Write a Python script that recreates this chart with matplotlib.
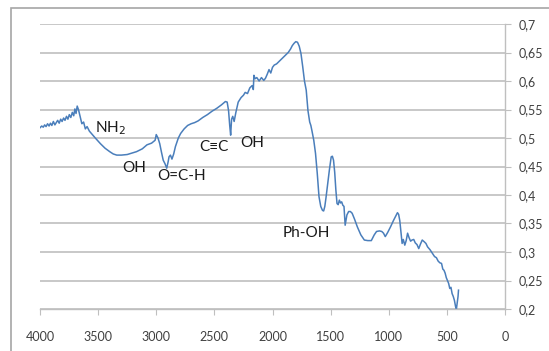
import numpy as np
import matplotlib.pyplot as plt
from matplotlib.patches import Rectangle
from matplotlib.ticker import FuncFormatter

# spectrum (wavenumber, absorbance)
wavenumber = [4000, 3985, 3972, 3960, 3948, 3935, 3922, 3910, 3898, 3885, 3872,
              3860, 3848, 3835, 3822, 3810, 3797, 3785, 3772, 3760, 3748, 3735,
              3722, 3710, 3700, 3690, 3680, 3668,
              3655, 3640, 3625, 3610, 3595, 3575, 3550, 3520, 3480, 3440, 3400,
              3370, 3340, 3300, 3250, 3200, 3170, 3120, 3080, 3040, 3010, 3000,
              2985, 2970, 2955, 2940, 2925, 2910, 2898, 2890, 2878, 2865, 2850,
              2835, 2810, 2790, 2760, 2730, 2700, 2670, 2640, 2600, 2560, 2520,
              2480, 2440, 2405, 2390, 2378, 2368, 2360, 2352, 2342, 2330, 2315,
              2295, 2270, 2250, 2235, 2215, 2195, 2175, 2165, 2160, 2150, 2135,
              2115, 2095, 2075, 2060, 2045, 2030, 2015, 2000, 1985, 1965, 1945,
              1925, 1905, 1885, 1865, 1845, 1830, 1815, 1800, 1785, 1770, 1755,
              1740, 1725, 1710, 1695, 1680, 1670, 1660, 1645, 1630, 1615, 1600,
              1585, 1570, 1560, 1550, 1540, 1525, 1510, 1495, 1485, 1475, 1465,
              1455, 1445, 1435, 1425, 1415, 1405, 1395, 1385, 1375, 1360, 1345,
              1330, 1315, 1295, 1270, 1240, 1210, 1180, 1150, 1125, 1105, 1080,
              1060, 1045, 1030, 1010, 985, 960, 940, 925, 915, 905, 895, 885,
              875, 862, 850, 838, 825, 812, 800, 785, 772, 757, 742, 727, 712,
              695, 680, 666, 645, 625, 606, 590, 575, 560, 546, 535, 525, 515,
              505, 495, 485, 475, 465, 455, 445, 435, 425, 418, 410, 404, 400]
absorbance = [0.518, 0.521, 0.519, 0.523, 0.520, 0.525, 0.521, 0.526, 0.522, 0.529, 0.523,
              0.527, 0.531, 0.526, 0.533, 0.529, 0.535, 0.531, 0.538, 0.533, 0.541, 0.536,
              0.545, 0.539, 0.551, 0.543, 0.556, 0.549,
              0.538, 0.525, 0.528, 0.516, 0.520, 0.512, 0.506, 0.499, 0.490, 0.482, 0.476,
              0.472, 0.470, 0.470, 0.471, 0.474, 0.476, 0.481, 0.488, 0.491, 0.496, 0.506,
              0.500, 0.490, 0.475, 0.461, 0.455, 0.447, 0.458, 0.467, 0.470, 0.463, 0.472,
              0.485, 0.500, 0.508, 0.516, 0.522, 0.525, 0.527, 0.530, 0.536, 0.541, 0.547,
              0.552, 0.558, 0.564, 0.563, 0.548, 0.522, 0.505, 0.533, 0.538, 0.529, 0.545,
              0.563, 0.571, 0.575, 0.580, 0.578, 0.588, 0.592, 0.585, 0.610, 0.604, 0.606,
              0.600, 0.606, 0.601, 0.605, 0.612, 0.620, 0.614, 0.624, 0.628, 0.630, 0.634,
              0.638, 0.642, 0.646, 0.650, 0.656, 0.662, 0.666, 0.669, 0.668, 0.661, 0.648,
              0.625, 0.600, 0.584, 0.548, 0.528, 0.522, 0.512, 0.496, 0.473, 0.438, 0.397,
              0.380, 0.373, 0.372, 0.380, 0.395, 0.420, 0.445, 0.467, 0.468, 0.461, 0.440,
              0.409, 0.385, 0.383, 0.391, 0.386, 0.388, 0.382, 0.380, 0.347, 0.365, 0.371,
              0.371, 0.368, 0.358, 0.344, 0.330, 0.321, 0.320, 0.320, 0.330, 0.336, 0.337,
              0.336, 0.333, 0.327, 0.334, 0.344, 0.355, 0.363, 0.369, 0.366, 0.355, 0.335,
              0.315, 0.322, 0.312, 0.320, 0.333, 0.325, 0.319, 0.321, 0.322, 0.316, 0.313,
              0.306, 0.314, 0.321, 0.318, 0.315, 0.309, 0.304, 0.298, 0.292, 0.290, 0.284,
              0.281, 0.280, 0.270, 0.268, 0.263, 0.255, 0.250, 0.245, 0.236, 0.238, 0.227,
              0.222, 0.215, 0.204, 0.200, 0.212, 0.222, 0.233]

# peak labels: (text, wavenumber, absorbance)
labels = [("NH$_2$", 3524, 0.517),
          ("OH", 3289, 0.447),
          ("O=C-H", 2993, 0.434),
          ("C\u2261C", 2632, 0.484),
          ("OH", 2276, 0.492),
          ("Ph-OH", 1914, 0.333)]

x_ticks = np.arange(0, 4001, 500)
y_ticks = np.arange(0.2, 0.701, 0.05)

plt.rcParams['font.family'] = ['Lato', 'DejaVu Sans']

fig = plt.figure(figsize=(5.49, 3.51), dpi=100)
fig.patches.append(Rectangle((11 / 549, -0.1), 1.2, 1 - 8 / 351 + 0.1,
                             transform=fig.transFigure, fill=False,
                             edgecolor='#a6a6a6', linewidth=1.2))
ax = fig.add_axes([40 / 549, 1 - 309 / 351, 465 / 549, 285 / 351])

ax.plot(wavenumber, absorbance, color='#4a7ebb', linewidth=1.1)

ax.set_xlim(4000, 0)
ax.set_ylim(0.2, 0.7)
ax.set_xticks(x_ticks)
ax.set_yticks(y_ticks)
ax.yaxis.tick_right()
ax.yaxis.set_major_formatter(FuncFormatter(lambda v, p: ('%g' % round(v, 2)).replace('.', ',')))
ax.grid(axis='y', color='#bfbfbf', linewidth=1.2)
ax.set_axisbelow(True)
for s in ['top', 'left']:
    ax.spines[s].set_visible(False)
for s in ['bottom', 'right']:
    ax.spines[s].set_color('#bfbfbf')
    ax.spines[s].set_linewidth(1.0)
ax.tick_params(axis='x', colors='#bfbfbf', labelcolor='#404040', length=4, pad=12, labelsize=9)
ax.tick_params(axis='y', colors='#bfbfbf', labelcolor='#404040', length=4, pad=6, labelsize=9)

for text, wn, val in labels:
    ax.text(wn, val, text, fontsize=11, color='#1a1a1a', ha='left', va='center')

fig.savefig('out.png', dpi=100)
